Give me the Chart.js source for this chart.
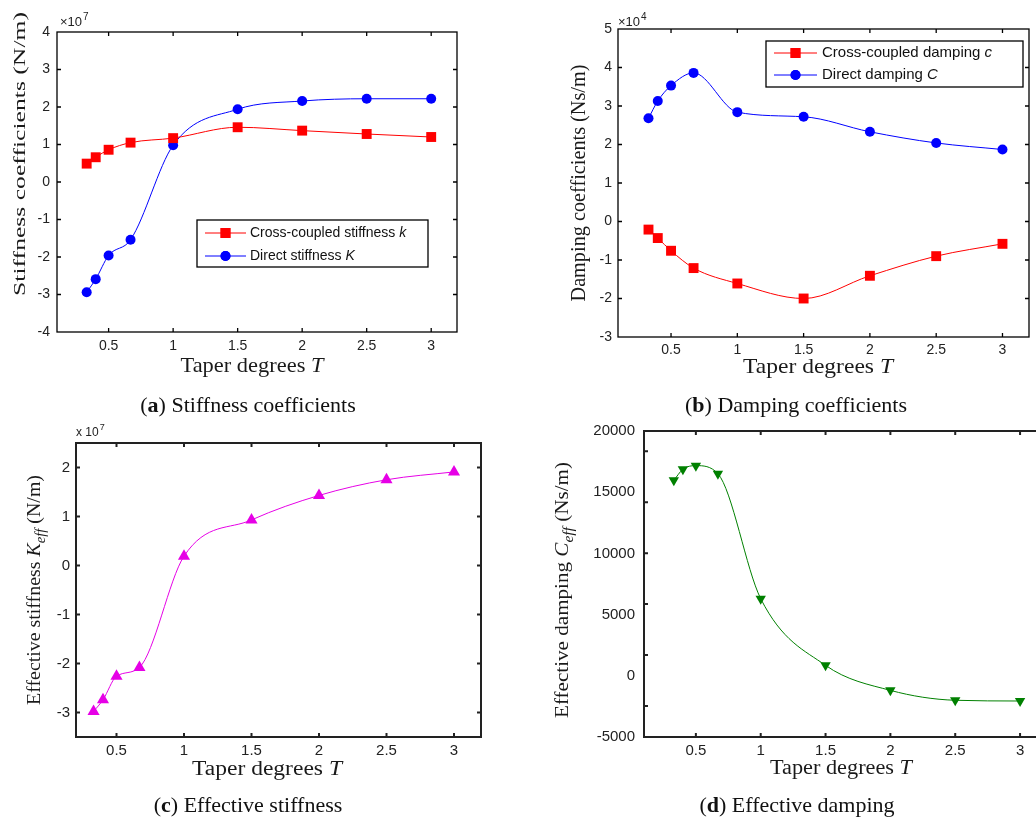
<!DOCTYPE html>
<html>
<head>
<meta charset="utf-8">
<script src="https://cdn.jsdelivr.net/npm/chart.js@4"></script>
<style>
  html, body { margin: 0; padding: 0; background: #fff; width: 1036px; height: 818px; overflow: hidden; }
  canvas { position: absolute; left: 0; top: 0; }
  .cap { position: absolute; font: 22px "Liberation Serif", serif; color: #111; transform: translate(-50%, -50%); white-space: nowrap; }
</style>
</head>
<body>
<canvas id="stiff" width="1036" height="818"></canvas>
<canvas id="damp" width="1036" height="818"></canvas>
<canvas id="keff" width="1036" height="818"></canvas>
<canvas id="ceff" width="1060" height="818"></canvas>
<div class="cap" style="left:248px;top:405px">(<b>a</b>) Stiffness coefficients</div>
<div class="cap" style="left:796px;top:405px">(<b>b</b>) Damping coefficients</div>
<div class="cap" style="left:248px;top:805px">(<b>c</b>) Effective stiffness</div>
<div class="cap" style="left:797px;top:805px">(<b>d</b>) Effective damping</div>
<script>
// taper degrees T
const taper = [0.33, 0.4, 0.5, 0.67, 1, 1.5, 2, 2.5, 3];
const taperTicks = [0.5, 1, 1.5, 2, 2.5, 3];

// stiffness, x10^7 N/m
const crossStiffness = [0.49, 0.66, 0.86, 1.05, 1.17, 1.46, 1.37, 1.28, 1.2];
const directStiffness = [-2.94, -2.59, -1.96, -1.54, 0.98, 1.94, 2.16, 2.22, 2.22];
const stiffTicks = [-4, -3, -2, -1, 0, 1, 2, 3, 4];

// damping, x10^4 Ns/m
const crossDamping = [-0.21, -0.43, -0.76, -1.21, -1.61, -2.0, -1.41, -0.9, -0.58];
const directDamping = [2.68, 3.13, 3.53, 3.86, 2.84, 2.72, 2.33, 2.04, 1.87];
const dampTicks = [-3, -2, -1, 0, 1, 2, 3, 4, 5];

// effective stiffness, x10^7 N/m
const effStiffness = [-2.98, -2.74, -2.26, -2.08, 0.19, 0.93, 1.43, 1.75, 1.91];
const keffTicks = [-3, -2, -1, 0, 1, 2];

// effective damping, Ns/m
const effDamping = [15970, 16870, 17170, 16510, 6300, 855, -1190, -2000, -2060];
const ceffTicks = [-5000, 0, 5000, 10000, 15000, 20000];

const SANS = '"Liberation Sans", Arial, sans-serif';
const SERIF = '"Liberation Serif", "Times New Roman", serif';

function pts(ys) { return taper.map((x, i) => ({ x: x, y: ys[i] })); }

function setTicks(list) {
  return s => { s.ticks = list.map(v => ({ value: v })); };
}

// text made of runs with own fonts, centred on x, baseline y, optionally stretched to len
function drawRich(ctx, parts, x, y, rot, len) {
  ctx.save();
  ctx.translate(x, y);
  ctx.rotate(rot || 0);
  let w = 0;
  parts.forEach(p => { ctx.font = p.font; w += ctx.measureText(p.text).width; });
  if (len) ctx.scale(len / w, 1);
  ctx.textBaseline = 'alphabetic';
  ctx.textAlign = 'left';
  let cx = -w / 2;
  parts.forEach(p => {
    ctx.font = p.font;
    ctx.fillText(p.text, cx, p.dy || 0);
    cx += ctx.measureText(p.text).width;
  });
  ctx.restore();
}

function drawMarker(ctx, ds, x, y) {
  Chart.helpers.drawPoint(ctx, {
    pointStyle: ds.pointStyle, rotation: ds.pointRotation || 0,
    radius: ds.pointRadius, borderWidth: 0
  }, x, y);
  ctx.fill();
}

// axes box with inward ticks, legend, axis titles and exponent
const frame = {
  id: 'frame',
  afterDatasetsDraw(chart, args, o) {
    const ctx = chart.ctx, a = chart.chartArea;
    ctx.save();
    ctx.strokeStyle = o.color;
    ctx.lineWidth = o.lineWidth;
    ctx.strokeRect(a.left, a.top, a.right - a.left, a.bottom - a.top);
    const xs = chart.scales.x, ys = chart.scales[o.tickAxis || 'y'];
    const len = 4;
    ctx.beginPath();
    xs.ticks.forEach(t => {
      const p = xs.getPixelForValue(t.value);
      ctx.moveTo(p, a.bottom); ctx.lineTo(p, a.bottom - len);
      ctx.moveTo(p, a.top); ctx.lineTo(p, a.top + len);
    });
    ys.ticks.forEach(t => {
      const p = ys.getPixelForValue(t.value);
      if (p < a.top + 1 || p > a.bottom - 1) return;
      ctx.moveTo(a.left, p); ctx.lineTo(a.left + len, p);
      ctx.moveTo(a.right, p); ctx.lineTo(a.right - len, p);
    });
    ctx.stroke();

    if (o.legend) {
      const L = o.legend;
      ctx.fillStyle = '#fff';
      ctx.fillRect(L.x0, L.y0, L.x1 - L.x0, L.y1 - L.y0);
      ctx.strokeStyle = '#000';
      ctx.lineWidth = 1.3;
      ctx.strokeRect(L.x0, L.y0, L.x1 - L.x0, L.y1 - L.y0);
      chart.data.datasets.forEach((ds, i) => {
        const y = L.rows[i];
        ctx.strokeStyle = ds.borderColor;
        ctx.lineWidth = 1;
        ctx.beginPath();
        ctx.moveTo(L.lx0, y); ctx.lineTo(L.lx1, y);
        ctx.stroke();
        ctx.fillStyle = ds.backgroundColor;
        drawMarker(ctx, ds, (L.lx0 + L.lx1) / 2, y);
        const cut = ds.label.lastIndexOf(' ') + 1;
        ctx.fillStyle = '#111';
        ctx.textBaseline = 'middle';
        ctx.font = L.size + 'px ' + SANS;
        ctx.fillText(ds.label.slice(0, cut), L.tx, y);
        const w = ctx.measureText(ds.label.slice(0, cut)).width;
        ctx.font = 'italic ' + L.size + 'px ' + SANS;
        ctx.fillText(ds.label.slice(cut), L.tx + w, y);
      });
    }

    ctx.fillStyle = '#1a1a1a';
    o.titles.forEach(t => drawRich(ctx, t.parts, t.x, t.y, t.rot, t.len));
    if (o.exp) {
      const e = o.exp;
      ctx.fillStyle = '#222';
      ctx.textBaseline = 'alphabetic';
      ctx.textAlign = 'left';
      ctx.font = e.size + 'px ' + SANS;
      ctx.fillText(e.base, e.x, e.y);
      const w = ctx.measureText(e.base).width;
      ctx.font = Math.round(e.size * 0.75) + 'px ' + SANS;
      ctx.fillText(e.pow, e.x + w + 1, e.y - e.size * 0.5);
    }
    ctx.restore();
  }
};

function serif(size, style) { return (style ? style + ' ' : '') + size + 'px ' + SERIF; }

function taperTitle(x, y, size, len) {
  return { parts: [{ text: 'Taper degrees ', font: serif(size) }, { text: 'T', font: serif(size, 'italic') }], x: x, y: y, len: len };
}

function lineSet(label, ys, color, style, radius, rot) {
  return {
    label: label, data: pts(ys),
    borderColor: color, backgroundColor: color,
    borderWidth: 1, pointStyle: style, pointRadius: radius, pointRotation: rot || 0,
    pointBorderWidth: 0, pointHoverRadius: radius,
    cubicInterpolationMode: 'monotone', clip: false
  };
}

// area: plot rectangle in page pixels; yw: space reserved for y tick labels
function makeChart(id, cfg) {
  const cw = document.getElementById(id).width;
  const A = cfg.area;
  const noGrid = { display: false, drawTicks: false };
  const scales = {
    x: {
      type: 'linear', min: cfg.xRange[0], max: cfg.xRange[1],
      afterBuildTicks: setTicks(taperTicks),
      afterFit: s => { s.height = 30; },
      grid: noGrid, border: { display: false },
      ticks: { color: '#222', padding: cfg.xPad, font: { family: SANS, size: cfg.tickSize }, callback: v => String(v), maxRotation: 0 }
    },
    y: {
      type: 'linear', position: 'left', min: cfg.yRange[0], max: cfg.yRange[1],
      afterBuildTicks: setTicks(cfg.yTicks),
      afterFit: s => { s.width = cfg.yw; },
      grid: noGrid, border: { display: false },
      ticks: { color: '#222', padding: cfg.yPad, font: { family: SANS, size: cfg.tickSize }, callback: v => String(v) }
    }
  };
  Object.assign(scales, cfg.extraScales || {});
  return new Chart(document.getElementById(id), {
    type: 'line',
    data: { datasets: cfg.datasets },
    options: {
      responsive: false, animation: false, devicePixelRatio: 1,
      layout: { padding: { left: A[0] - cfg.yw, top: A[1], right: cw - A[2], bottom: 818 - A[3] - 30 } },
      plugins: {
        legend: { display: false }, tooltip: { enabled: false },
        frame: cfg.frame
      },
      scales: scales
    },
    plugins: [frame]
  });
}

makeChart('stiff', {
  area: [57, 32, 457, 332], yw: 50, xPad: 6, yPad: 7, tickSize: 14,
  xRange: [0.1, 3.2], yRange: [-4, 4], yTicks: stiffTicks,
  datasets: [
    lineSet('Cross-coupled stiffness k', crossStiffness, '#ff0000', 'rect', 7),
    lineSet('Direct stiffness K', directStiffness, '#0000ff', 'circle', 5)
  ],
  frame: {
    color: '#000', lineWidth: 1.3,
    legend: { x0: 197, y0: 220, x1: 428, y1: 267, rows: [233, 256], lx0: 205, lx1: 246, tx: 250, size: 14 },
    exp: { base: '\u00d710', pow: '7', x: 60, y: 26, size: 13 },
    titles: [
      taperTitle(252, 372, 21, 143),
      { parts: [{ text: 'Stiffness coefficients (N/m)', font: serif(17) }], x: 25, y: 154, rot: -Math.PI / 2, len: 284 }
    ]
  }
});

makeChart('damp', {
  area: [618, 29, 1033, 337], yw: 50, xPad: 5, yPad: 6, tickSize: 14,
  xRange: [0.1, 3.2], yRange: [-3, 5], yTicks: dampTicks,
  datasets: [
    lineSet('Cross-coupled damping c', crossDamping, '#ff0000', 'rect', 7),
    lineSet('Direct damping C', directDamping, '#0000ff', 'circle', 5)
  ],
  frame: {
    color: '#000', lineWidth: 1.3,
    legend: { x0: 766, y0: 41, x1: 1023, y1: 87, rows: [53, 75], lx0: 774, lx1: 817, tx: 822, size: 15 },
    exp: { base: '\u00d710', pow: '4', x: 618, y: 26, size: 13 },
    titles: [
      taperTitle(818, 373, 21, 150),
      { parts: [{ text: 'Damping coefficients (Ns/m)', font: serif(20) }], x: 585, y: 183, rot: -Math.PI / 2, len: 237 }
    ]
  }
});

makeChart('keff', {
  area: [76, 443, 481, 737], yw: 50, xPad: 5, yPad: 6, tickSize: 15,
  xRange: [0.2, 3.2], yRange: [-3.5, 2.5], yTicks: keffTicks,
  datasets: [lineSet('Effective stiffness', effStiffness, '#e600e6', 'triangle', 7)],
  frame: {
    color: '#222', lineWidth: 2,
    exp: { base: 'x 10', pow: '7', x: 76, y: 436, size: 12 },
    titles: [
      taperTitle(267, 775, 20, 150),
      {
        parts: [
          { text: 'Effective stiffness ', font: serif(19) },
          { text: 'K', font: serif(19, 'italic') },
          { text: 'eff', font: serif(14, 'italic'), dy: 5 },
          { text: ' (N/m)', font: serif(19) }
        ], x: 40, y: 590, rot: -Math.PI / 2, len: 230
      }
    ]
  }
});

makeChart('ceff', {
  area: [644, 431, 1046, 737], yw: 60, xPad: 5, yPad: 9, tickSize: 15,
  xRange: [0.1, 3.2], yRange: [-5000, 20000], yTicks: ceffTicks,
  datasets: [lineSet('Effective damping', effDamping, '#008000', 'triangle', 6, 180)],
  extraScales: {
    // tick marks on this panel follow their own spacing
    yt: {
      type: 'linear', position: 'left', min: -0.61, max: 5.4,
      ticks: { display: false, stepSize: 1 }, grid: { display: false, drawTicks: false }, border: { display: false },
      afterFit: s => { s.width = 0; }
    }
  },
  frame: {
    color: '#222', lineWidth: 2, tickAxis: 'yt',
    titles: [
      taperTitle(841, 774, 20, 142),
      {
        parts: [
          { text: 'Effective damping ', font: serif(19) },
          { text: 'C', font: serif(19, 'italic') },
          { text: 'eff', font: serif(14, 'italic'), dy: 5 },
          { text: ' (Ns/m)', font: serif(19) }
        ], x: 568, y: 590, rot: -Math.PI / 2, len: 256
      }
    ]
  }
});
</script>
</body>
</html>
